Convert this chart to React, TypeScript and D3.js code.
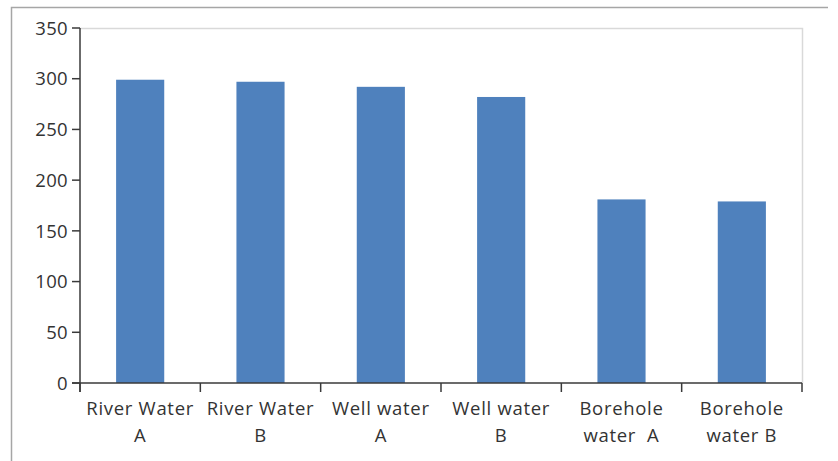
import React, { useEffect, useRef } from "react";
import * as d3 from "d3";

const categories: string[][] = [
  ["River Water", "A"],
  ["River Water", "B"],
  ["Well water", "A"],
  ["Well water", "B"],
  ["Borehole", "water  A"],
  ["Borehole", "water B"],
];
const values: number[] = [299, 297, 292, 282, 181, 179];
const yTicks: number[] = [0, 50, 100, 150, 200, 250, 300, 350];

const W = 838;
const H = 461;
const M = { left: 80, right: 36, top: 28, bottom: 78 };

export default function App() {
  const ref = useRef<SVGSVGElement>(null);
  useEffect(() => {
    const svg = d3.select(ref.current);
    svg.selectAll("*").remove();
    const x0 = M.left, x1 = W - M.right, y0 = H - M.bottom, y1 = M.top;
    const x = d3.scaleBand<number>().domain(d3.range(categories.length)).range([x0, x1]).paddingInner(0).paddingOuter(0);
    const y = d3.scaleLinear().domain([0, 350]).range([y0, y1]);
    const font = "'Open Sans', sans-serif";

    // outer frame (left + top)
    svg.append("path").attr("d", `M11.5,${H} V7.5 H828`).attr("fill", "none").attr("stroke", "#a6a6a6").attr("stroke-width", 1.5);

    // plot area top/right border
    svg.append("path").attr("d", `M${x0},${y1 + 0.5} H${x1 + 0.5} V${y0}`).attr("fill", "none").attr("stroke", "#d9d9d9").attr("stroke-width", 1.5);

    // bars
    const bw = x.bandwidth() * 0.4;
    svg.append("g").selectAll("rect").data(values).join("rect")
      .attr("x", (_d, i) => (x(i) as number) + x.bandwidth() / 2 - bw / 2)
      .attr("width", bw)
      .attr("y", (d) => y(d))
      .attr("height", (d) => y(0) - y(d))
      .attr("fill", "#4f81bd");

    const axisColor = "#3a3a3a";
    // y axis
    const ya = svg.append("g");
    ya.append("line").attr("x1", x0).attr("x2", x0).attr("y1", y1).attr("y2", y0 + 9).attr("stroke", axisColor).attr("stroke-width", 1.5);
    yTicks.forEach((t) => {
      ya.append("line").attr("x1", x0 - 8).attr("x2", x0).attr("y1", y(t)).attr("y2", y(t)).attr("stroke", axisColor).attr("stroke-width", 1.5);
      ya.append("text").attr("x", x0 - 12).attr("y", y(t)).attr("dy", "0.36em").attr("text-anchor", "end")
        .attr("font-family", font).attr("font-size", 18.5).attr("letter-spacing", 0.3).attr("fill", "#333").text(String(t));
    });

    // x axis
    const xa = svg.append("g");
    xa.append("line").attr("x1", x0 - 8).attr("x2", x1).attr("y1", y0).attr("y2", y0).attr("stroke", axisColor).attr("stroke-width", 1.5);
    const bounds = d3.range(categories.length + 1).map((i) => (i < categories.length ? (x(i) as number) : x1));
    bounds.forEach((b) => {
      xa.append("line").attr("x1", b).attr("x2", b).attr("y1", y0).attr("y2", y0 + 9).attr("stroke", axisColor).attr("stroke-width", 1.5);
    });
    categories.forEach((lines, i) => {
      const cx = (x(i) as number) + x.bandwidth() / 2;
      lines.forEach((ln, j) => {
        xa.append("text").attr("x", cx).attr("y", 415 + j * 27).attr("text-anchor", "middle")
          .attr("font-family", font).attr("font-size", 18.5).attr("letter-spacing", 0.7)
          .attr("fill", "#333").style("white-space", "pre").text(ln);
      });
    });
  }, []);
  return (
    <svg ref={ref} width={W} height={H} style={{ position: "absolute", left: 0, top: 0, background: "#fff" }} />
  );
}
